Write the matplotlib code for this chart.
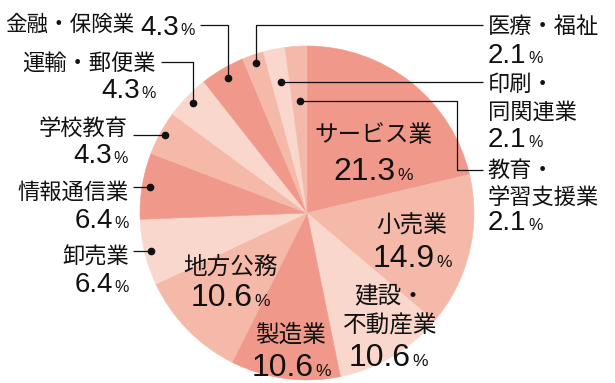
import matplotlib
matplotlib.use('Agg')
import matplotlib.pyplot as plt
import numpy as np

# ---- data ----
names = ['サービス業', '小売業', '建設・\n不動産業', '製造業', '地方公務', '卸売業',
         '情報通信業', '学校教育', '運輸・郵便業', '金融・保険業', '医療・福祉',
         '印刷・\n同関連業', '教育・\n学習支援業']
values = [21.3, 14.9, 10.6, 10.6, 10.6, 6.4, 6.4, 4.3, 4.3, 4.3, 2.1, 2.1, 2.1]
value_labels = ['21.3', '14.9', '10.6', '10.6', '10.6', '6.4', '6.4', '4.3', '4.3', '4.3',
                '2.1', '2.1', '2.1']
colors = ['#F0998A', '#F5B9AA', '#FAD7CD', '#F0998A', '#F5B9AA', '#FAD7CD', '#F0998A',
          '#F5B9AA', '#FAD7CD', '#F0998A', '#F5B9AA', '#FAD7CD', '#F5B9AA']

W, H = 615, 383
JP = ['Noto Sans CJK JP', 'DejaVu Sans']
NUM = ['Liberation Sans', 'DejaVu Sans']
TXT = '#111111'

fig = plt.figure(figsize=(W / 100, H / 100), dpi=100)
ax = fig.add_axes([0, 0, 1, 1])

CX, CY, R = 307, 213, 167
wedges, _ = ax.pie(values, colors=colors, startangle=90, counterclock=False,
                   center=(CX, H - CY), radius=R)
for w, c in zip(wedges, colors):
    w.set_edgecolor(c)
    w.set_linewidth(0.4)
ax.set_xlim(0, W)
ax.set_ylim(0, H)
ax.set_aspect('auto')
ax.axis('off')

renderer = fig.canvas.get_renderer()


def jp(x, y, s, fs, ha):
    ax.text(x, H - y, s, fontsize=fs, family=JP, ha=ha, va='center', color=TXT)


def val(x, ybase, num, fs_num, fs_pct, align):
    t1 = ax.text(0, 0, num, fontsize=fs_num, family=NUM, ha='left', va='baseline', color=TXT)
    t2 = ax.text(0, 0, '%', fontsize=fs_pct, family=NUM, ha='left', va='baseline', color=TXT)
    w1 = t1.get_window_extent(renderer).width
    w2 = t2.get_window_extent(renderer).width
    gap = 1.5
    total = w1 + gap + w2
    if align == 'left':
        x0 = x
    elif align == 'right':
        x0 = x - total
    else:
        x0 = x - total / 2
    t1.set_position((x0, H - ybase))
    t2.set_position((x0 + w1 + gap, H - ybase))


def dot_pos(i, rf):
    w = wedges[i]
    a = np.deg2rad((w.theta1 + w.theta2) / 2)
    return CX + rf * R * np.cos(a), CY - rf * R * np.sin(a)


def leader(pts):
    xs = [p[0] for p in pts]
    ys = [H - p[1] for p in pts]
    ax.plot(xs, ys, color=TXT, lw=0.9, solid_capstyle='butt')
    ax.plot(xs[-1], ys[-1], 'o', color=TXT, ms=4.5)


FO, FI = 16, 17        # japanese font sizes outside / inside
NO, PO = 20, 11.5      # number / percent outside
NI, PI = 23, 12.5      # number / percent inside

# ---- inside labels ----
jp(373, 135, names[0], FI, 'center'); val(373, 180, value_labels[0], NI, PI, 'center')
jp(412, 226, names[1], FI, 'center'); val(412, 267, value_labels[1], NI, PI, 'center')
l1, l2 = names[2].split('\n')
jp(390, 297, l1, FI, 'center'); jp(390, 326, l2, FI, 'center')
val(388, 366, value_labels[2], NI, PI, 'center')
jp(291, 335, names[3], FI, 'center'); val(291, 376, value_labels[3], NI, PI, 'center')
jp(230, 267, names[4], FI, 'center'); val(230, 306, value_labels[4], NI, PI, 'center')

# ---- left outside labels ----
# 卸売業
jp(129, 257, names[5], FO, 'right'); val(129, 292, value_labels[5], NO, PO, 'right')
dx, dy = dot_pos(5, 0.96)
leader([(133, dy), (dx, dy)])
# 情報通信業
jp(129, 192, names[6], FO, 'right'); val(129, 228, value_labels[6], NO, PO, 'right')
dx, dy = dot_pos(6, 0.95)
leader([(133, dy), (dx, dy)])
# 学校教育
jp(128, 128, names[7], FO, 'right'); val(128, 163, value_labels[7], NO, PO, 'right')
dx, dy = dot_pos(7, 0.97)
leader([(133, dy), (dx, dy)])
# 運輸・郵便業
jp(156, 63, names[8], FO, 'right'); val(156, 98, value_labels[8], NO, PO, 'right')
dx, dy = dot_pos(8, 0.95)
leader([(161, 62), (dx, 62), (dx, dy)])
# 金融・保険業 4.3%
jp(134, 25, names[9], 15.5, 'right'); val(195, 35, value_labels[9], NO, PO, 'right')
dx, dy = dot_pos(9, 0.94)
leader([(200, 25), (dx, 25), (dx, dy)])

# ---- right outside labels ----
TX = 488
# 医療・福祉
jp(TX, 26, names[10], FO, 'left'); val(TX, 63, value_labels[10], NO, PO, 'left')
dx, dy = dot_pos(10, 0.95)
leader([(483, 25), (dx, 25), (dx, dy)])
# 印刷・同関連業
l1, l2 = names[11].split('\n')
jp(TX, 84, l1, FO, 'left'); jp(TX, 112, l2, FO, 'left')
val(TX, 147, value_labels[11], NO, PO, 'left')
dx, dy = dot_pos(11, 0.80)
leader([(483, dy), (dx, dy)])
# 教育・学習支援業
l1, l2 = names[12].split('\n')
jp(TX, 170, l1, FO, 'left'); jp(TX, 197, l2, FO, 'left')
val(TX, 230, value_labels[12], NO, PO, 'left')
dx, dy = dot_pos(12, 0.67)
leader([(483, 170), (457, 170), (457, dy), (dx, dy)])

fig.savefig('out.png', dpi=100)
